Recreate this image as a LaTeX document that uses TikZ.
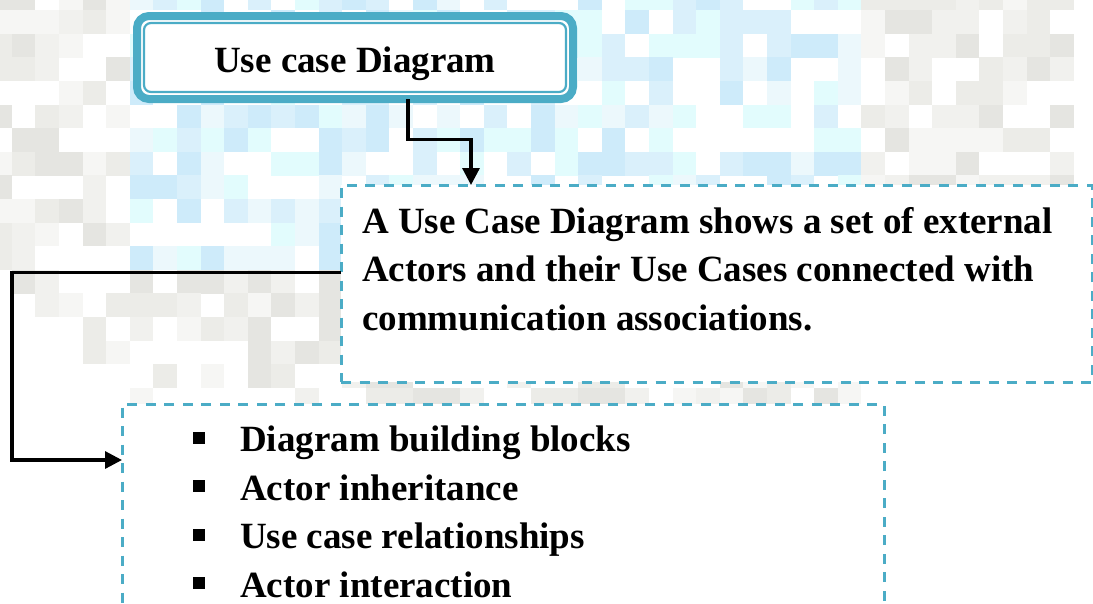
\documentclass[tikz,border=0pt]{standalone}
\usepackage{fontspec}
\setmainfont{Liberation Serif}
\definecolor{casecyan}{RGB}{75, 172, 198}
\definecolor{tile11}{RGB}{246, 246, 244}
\definecolor{tile12}{RGB}{236, 236, 232}
\definecolor{tile13}{RGB}{229, 229, 225}
\definecolor{tile14}{RGB}{241, 241, 238}
\definecolor{tile21}{RGB}{236, 248, 252}
\definecolor{tile22}{RGB}{218, 240, 251}
\definecolor{tile23}{RGB}{206, 235, 250}
\definecolor{tile24}{RGB}{226, 252, 253}
\usetikzlibrary{arrows.meta, positioning, calc}

\begin{document}
\begin{tikzpicture}[x=1pt, y=-1pt,
    titlebox/.style={draw=casecyan, fill=white, line width=8pt, rounded corners=12pt,
      outer sep=0pt, minimum width=436pt, minimum height=83pt},
    dashbox/.style={draw=casecyan, fill=white, line width=3pt,
      dash pattern=on 10pt off 8.5pt, outer sep=0pt, anchor=north west},
    link/.style={line width=3.2pt, -{Triangle[length=17pt, width=17pt]}},
    bodytext/.style={font=\fontsize{37}{48.5}\selectfont\bfseries, align=left,
      inner sep=0pt, anchor=north west}]
  \clip (0,0) rectangle (1093,603);
  % pixel mosaic behind the boxes
  \pgfmathsetseed{17}
  \foreach \i in {0,...,46}{
    \foreach \j in {0,...,17}{
      \pgfmathsetmacro\cx{-11.9+\i*23.6+11.8}
      \pgfmathsetmacro\cy{-13.4+\j*23.6+11.8}
      \pgfmathtruncatemacro\zone{(\cy>400 || \cx>1065) ? 0 :
        ((\cx>850) ? ((\cy<190) ? 1 : 0) :
        ((\cx<125 || \cy>275) ? ((\cy-\cx<280) ? 1 : 0) : 2))}
      \pgfmathtruncatemacro\k{random(0,5)}
      \ifnum\zone>0 \ifnum\k>0 \ifnum\k<5
        \fill[tile\zone\k] (-11.9+\i*23.6, -13.4+\j*23.6) rectangle ++(23.7,23.7);
      \fi\fi\fi
    }
  }
  % boxes
  \node[titlebox, text height=29pt, text depth=0pt,
    font=\fontsize{37}{44}\selectfont\bfseries] (title) at (355,57.5) {Use case Diagram};
  \draw[casecyan, line width=2.2pt, rounded corners=7pt]
    ([shift={(7,7)}]title.north west) rectangle ([shift={(-7,-7)}]title.south east);
  \node[dashbox, minimum width=751pt, minimum height=197pt] (defbox) at (341,185) {};
  \node[dashbox, minimum width=762pt, minimum height=230pt] (listbox) at (122,404) {};
  % texts
  \node[bodytext] (deftext) at ([shift={(21,22)}]defbox.north west)
    {A Use Case Diagram shows a set of external\\
     Actors and their Use Cases connected with\\
     communication associations.};
  \node[bodytext] (topics) at ([shift={(71,22)}]listbox.north west)
    {\raisebox{8pt}{\rule{12pt}{12pt}}\hspace{35pt}Diagram building blocks\\
     \raisebox{8pt}{\rule{12pt}{12pt}}\hspace{35pt}Actor inheritance\\
     \raisebox{8pt}{\rule{12pt}{12pt}}\hspace{35pt}Use case relationships\\
     \raisebox{8pt}{\rule{12pt}{12pt}}\hspace{35pt}Actor interaction};
  % connectors
  \draw[link] ([xshift=53pt]title.south) -- ++(0,40.5) -| ([xshift=130pt]defbox.north west);
  \draw[link] ([yshift=-87.5pt]defbox.north west) -- ++(-329,0)
    |- ([yshift=-56pt]listbox.north west);
\end{tikzpicture}
\end{document}
